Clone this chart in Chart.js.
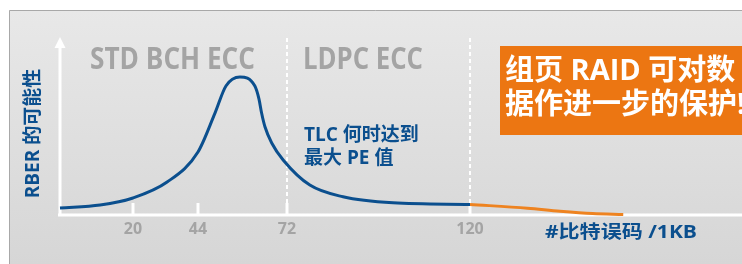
<!DOCTYPE html>
<html>
<head>
<meta charset="utf-8">
<script src="https://cdn.jsdelivr.net/npm/chart.js@4.4.0/dist/chart.umd.min.js"></script>
<style>
  html, body { margin: 0; padding: 0; background: #fff; }
  canvas { display: block; }
</style>
</head>
<body>
<canvas id="rber" width="742" height="264"></canvas>
<script>
// ticks on the x axis (# bit errors / 1KB)
const tickValues = [20, 44, 72, 120];
// dashed dividers between the ECC regions
const dividerValues = [72, 120];

// RBER probability curve (blue)
const blueX = [0, 11, 20, 32.6, 44, 49.35, 52.8, 57.2, 61.9, 63.2, 64.0, 65.1, 67.2, 70.8, 78, 86.7, 99.8, 120];
const blueY = [4, 5.6, 9.6, 18.6, 35.6, 57.6, 72.9, 78, 72.9, 65.5, 57.8, 49.7, 40.7, 31.1, 16.9, 10.3, 6.9, 6.0];
// tail covered by RAID (orange)
const orangeX = [120, 135, 143.5, 152, 160];
const orangeY = [6.0, 3.8, 2.1, 0.8, 0.3];

const BLUE = '#0b4f8e';
const ORANGE = '#ee8320';
const GRAY_TEXT = '#a4a4a4';
const LATIN_CJK = "'Open Sans', 'Noto Sans CJK SC', sans-serif";

// the x axis of the original is not evenly spaced, so map value -> fraction piecewise
const axisKnots = [0, 20, 44, 72, 120, 191];
const axisStops = [0, 0.107, 0.2023, 0.3328, 0.6012, 1];

class PiecewiseScale extends Chart.LinearScale {
    toDecimal(v) {
        for (let i = 1; i < axisKnots.length; i++) {
            if (v <= axisKnots[i] || i === axisKnots.length - 1) {
                const a = axisKnots[i - 1], b = axisKnots[i];
                return axisStops[i - 1] + (v - a) / (b - a) * (axisStops[i] - axisStops[i - 1]);
            }
        }
    }
    getPixelForValue(v) {
        return v === null ? NaN : this.getPixelForDecimal(this.toDecimal(v));
    }
    getValueForPixel(p) {
        const d = this.getDecimalForPixel(p);
        for (let i = 1; i < axisStops.length; i++) {
            if (d <= axisStops[i] || i === axisStops.length - 1) {
                const a = axisStops[i - 1], b = axisStops[i];
                return axisKnots[i - 1] + (d - a) / (b - a) * (axisKnots[i] - axisKnots[i - 1]);
            }
        }
    }
}
PiecewiseScale.id = 'piecewise';
PiecewiseScale.defaults = Chart.LinearScale.defaults;
Chart.register(PiecewiseScale);

// squeeze/stretch a line of text to a given width
function fitText(ctx, text, x, y, width) {
    const w = ctx.measureText(text).width;
    ctx.save();
    ctx.translate(x, y);
    ctx.scale(width / w, 1);
    ctx.fillText(text, 0, 0);
    ctx.restore();
}

const decorations = {
    id: 'decorations',
    beforeDraw(chart) {
        const ctx = chart.ctx;
        ctx.save();
        const g = ctx.createLinearGradient(0, 10, 0, 264);
        g.addColorStop(0, '#e8e8e8');
        g.addColorStop(1, '#d6d6d6');
        ctx.fillStyle = g;
        ctx.fillRect(9, 10, 742 - 9, 264 - 10);
        ctx.strokeStyle = '#a8a8a8';
        ctx.lineWidth = 1;
        ctx.beginPath();
        ctx.moveTo(9.5, 264);
        ctx.lineTo(9.5, 10.5);
        ctx.lineTo(742, 10.5);
        ctx.stroke();
        ctx.restore();
    },
    beforeDatasetsDraw(chart) {
        const ctx = chart.ctx;
        const x = chart.scales.x;
        const { left, top, bottom } = chart.chartArea;
        ctx.save();
        ctx.strokeStyle = '#fff';
        ctx.fillStyle = '#fff';

        // dashed dividers
        ctx.lineWidth = 2;
        ctx.setLineDash([4, 3]);
        dividerValues.forEach(v => {
            const px = Math.round(x.getPixelForValue(v));
            ctx.beginPath();
            ctx.moveTo(px, top);
            ctx.lineTo(px, bottom - 12);
            ctx.stroke();
        });
        ctx.setLineDash([]);

        // short tick marks above the axis
        ctx.lineWidth = 3;
        tickValues.forEach(v => {
            const px = Math.round(x.getPixelForValue(v));
            ctx.beginPath();
            ctx.moveTo(px, bottom - 12);
            ctx.lineTo(px, bottom);
            ctx.stroke();
        });

        // axes
        ctx.beginPath();
        ctx.moveTo(left - 2, bottom);
        ctx.lineTo(chart.width, bottom);
        ctx.moveTo(left, bottom + 1);
        ctx.lineTo(left, top + 9);
        ctx.stroke();
        ctx.beginPath();
        ctx.moveTo(left, top - 1);
        ctx.lineTo(left - 5.5, top + 10);
        ctx.lineTo(left + 5.5, top + 10);
        ctx.closePath();
        ctx.fill();
        ctx.restore();
    },
    afterDatasetsDraw(chart) {
        const ctx = chart.ctx;
        ctx.save();
        ctx.textAlign = 'left';

        // region headings
        ctx.fillStyle = GRAY_TEXT;
        ctx.textBaseline = 'alphabetic';
        ctx.font = "bold 31px 'Open Sans', sans-serif";
        fitText(ctx, 'STD BCH ECC', 90, 69, 165);
        fitText(ctx, 'LDPC ECC', 303, 69, 120);

        // TLC note
        ctx.fillStyle = BLUE;
        ctx.textBaseline = 'middle';
        ctx.font = "bold 19px " + LATIN_CJK;
        ctx.fillText('TLC 何时达到', 304, 135.5);
        ctx.fillText('最大 PE 值', 304, 158.5);

        // RAID callout
        ctx.fillStyle = '#ec7612';
        ctx.fillRect(500, 46, 242, 89);
        ctx.fillStyle = '#fff';
        ctx.font = "bold 29px " + LATIN_CJK;
        ctx.fillText('组页 RAID 可对数', 505, 71.5);
        ctx.fillText('据作进一步的保护!', 505, 106);

        // axis titles
        ctx.fillStyle = BLUE;
        ctx.font = "bold 18px " + LATIN_CJK;
        fitText(ctx, '#比特误码 /1KB', 545, 232.5, 152);

        ctx.translate(34, 133.5);
        ctx.rotate(-Math.PI / 2);
        ctx.textAlign = 'center';
        ctx.font = "bold 19px " + LATIN_CJK;
        ctx.fillText('RBER 的可能性', 0, 0);
        ctx.restore();
    }
};

new Chart(document.getElementById('rber'), {
    type: 'line',
    data: {
        datasets: [{
            data: blueX.map((x, i) => ({ x: x, y: blueY[i] })),
            borderColor: BLUE,
            borderWidth: 3,
            pointRadius: 0,
            cubicInterpolationMode: 'monotone',
            clip: false
        }, {
            data: orangeX.map((x, i) => ({ x: x, y: orangeY[i] })),
            borderColor: ORANGE,
            borderWidth: 3,
            pointRadius: 0,
            cubicInterpolationMode: 'monotone',
            clip: false
        }]
    },
    options: {
        responsive: false,
        animation: false,
        devicePixelRatio: 1,
        layout: { padding: { left: 60, top: 38, right: 0, bottom: 0 } },
        plugins: {
            legend: { display: false },
            tooltip: { enabled: false }
        },
        scales: {
            x: {
                type: 'piecewise',
                min: 0,
                max: 191,
                grid: { display: false, drawTicks: false },
                border: { display: false },
                afterBuildTicks: s => { s.ticks = tickValues.map(v => ({ value: v })); },
                afterFit: s => { s.height = 49; },
                ticks: {
                    color: GRAY_TEXT,
                    font: { family: "'Open Sans', sans-serif", size: 16, weight: 'bold' },
                    padding: 5,
                    autoSkip: false,
                    maxRotation: 0
                }
            },
            y: { display: false, min: 0, max: 100 }
        }
    },
    plugins: [decorations]
});
</script>
</body>
</html>
